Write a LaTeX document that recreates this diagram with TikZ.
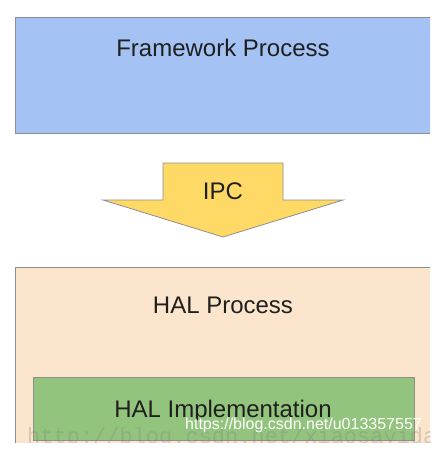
\documentclass[tikz,border=0pt]{standalone}
\usepackage{fontspec}
\setmainfont{Liberation Sans}
\newfontfamily\markfont{Liberation Mono}
\usetikzlibrary{positioning}
\definecolor{fwblue}{HTML}{A4C2F4}
\definecolor{halpeach}{HTML}{FCE5CD}
\definecolor{implgreen}{HTML}{93C47D}
\definecolor{ipcyellow}{HTML}{FFD966}
\definecolor{edgegray}{HTML}{8E8E8E}
\tikzstyle{procbox} = [rectangle, draw=edgegray, line width=1pt, anchor=north west, inner sep=0pt]
\tikzstyle{title}   = [font=\fontsize{24}{28}\selectfont, text=black!88, inner sep=0pt, anchor=base]
\tikzstyle{ipcarrow} = [draw=edgegray, line width=0.8pt, fill=ipcyellow, line join=miter]
\tikzstyle{wmark}   = [inner sep=0pt, anchor=base west]

\begin{document}
\begin{tikzpicture}[x=1pt, y=-1pt]
	\useasboundingbox (0,0) rectangle (442,461);
	\clip (0,0) rectangle (430,442);
	% framework side
	\node [procbox, fill=fwblue, minimum width=440pt, minimum height=116pt] (fw) at (15,17) {};
	\node [title] (fwtext) at (223,56) {Framework Process};
	% IPC arrow
	\coordinate (tip) at (223,237);
	\path [ipcarrow] (163,163) -- (283,163) -- (283,200) -- (343,200) -- (tip) -- (103,200) -- (163,200) -- cycle;
	\node [title] (ipc) at (223,199) {IPC};
	% HAL side
	\node [procbox, fill=halpeach, minimum width=440pt, minimum height=200pt] (hal) at (15,267) {};
	\node [title] (haltext) at (223,313) {HAL Process};
	\node [procbox, fill=implgreen, minimum width=381pt, minimum height=63pt] (impl) at (33,377) {};
	\node [title] (impltext) at (223,417) {HAL Implementation};
	% watermarks
	\node [wmark, font=\markfont\fontsize{22}{24}\selectfont, text=gray, opacity=0.3] (wmark2) at (27,443) {http://blog.csdn.net/xiaosayidao};
	\node [wmark, font=\fontsize{16}{18}\selectfont, text=white] (wmark1) at (185,429) {https://blog.csdn.net/u013357557};
\end{tikzpicture}
\end{document}
